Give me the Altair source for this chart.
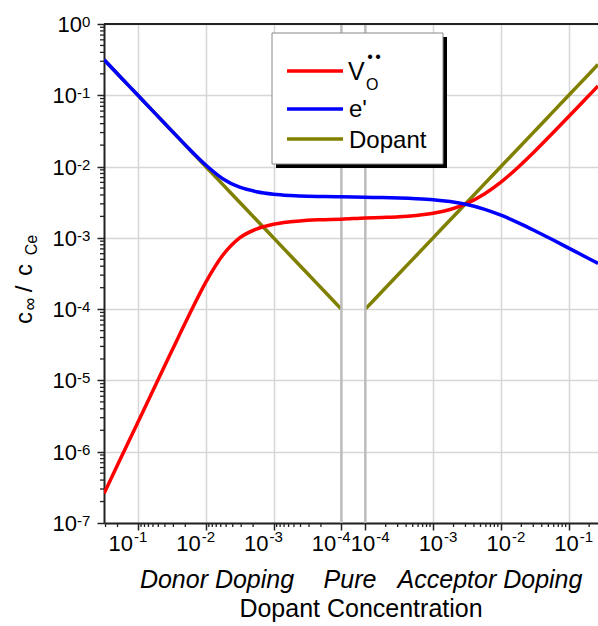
import math

import altair as alt
import pandas as pd

FONT = "Liberation Sans"
GAP = 0.353  # width of the break between the donor and acceptor halves, in decades

# Dopant concentration on each half of the axis
donor_conc = [0.316, 0.178, 0.1, 0.0562, 0.0316, 0.0178, 0.01, 5.62e-3, 3.16e-3,
              1.78e-3, 1e-3, 5.62e-4, 3.16e-4, 1.78e-4, 1e-4]
acceptor_conc = [1e-4, 1.78e-4, 3.16e-4, 5.62e-4, 1e-3, 1.78e-3, 3.16e-3, 5.62e-3,
                 1e-2, 1.78e-2, 3.16e-2, 5.62e-2, 0.1, 0.178, 0.27]

# Oxygen vacancy concentration
donor_vo = [2.60e-7, 8.20e-7, 2.60e-6, 8.22e-6, 2.60e-5, 8.08e-5, 2.37e-4, 5.69e-4,
            1.00e-3, 1.33e-3, 1.55e-3, 1.68e-3, 1.77e-3, 1.80e-3, 1.83e-3]
acceptor_vo = [1.90e-3, 1.93e-3, 1.97e-3, 2.06e-3, 2.21e-3, 2.50e-3, 3.04e-3, 4.08e-3,
               6.04e-3, 9.72e-3, 1.64e-2, 2.86e-2, 5.04e-2, 8.93e-2, 0.135]

# Electron concentration
donor_e = [0.316, 0.178, 0.100, 0.0562, 0.0317, 0.0179, 0.0105, 6.76e-3, 5.13e-3,
           4.44e-3, 4.10e-3, 3.93e-3, 3.83e-3, 3.80e-3, 3.76e-3]
acceptor_e = [3.70e-3, 3.68e-3, 3.63e-3, 3.55e-3, 3.43e-3, 3.23e-3, 2.93e-3, 2.53e-3,
              2.08e-3, 1.64e-3, 1.26e-3, 9.54e-4, 7.18e-4, 5.40e-4, 4.39e-4]

# Axis decades
x_donor_decades = [1e-1, 1e-2, 1e-3, 1e-4]
x_acceptor_decades = [1e-4, 1e-3, 1e-2, 1e-1]
y_decades = [1, 1e-1, 1e-2, 1e-3, 1e-4, 1e-5, 1e-6, 1e-7]


def donor_pos(c):
    return -math.log10(c)


def acceptor_pos(c):
    return math.log10(c) + 8 + GAP


X_MIN = 0.5
X_MAX = acceptor_pos(acceptor_conc[-1])

xscale = alt.Scale(domain=[X_MIN, X_MAX], zero=False, nice=False)
yscale = alt.Scale(type="log", domain=[1e-7, 1], nice=False)

# ---- curve table ----
rows = []
order = 0
for c, v, e in zip(donor_conc, donor_vo, donor_e):
    u = donor_pos(c)
    rows += [dict(u=u, value=v, series="V", seg="V", order=order),
             dict(u=u, value=e, series="e", seg="e", order=order),
             dict(u=u, value=c, series="Dopant", seg="donor", order=order)]
    order += 1
for c, v, e in zip(acceptor_conc, acceptor_vo, acceptor_e):
    u = acceptor_pos(c)
    rows += [dict(u=u, value=v, series="V", seg="V", order=order),
             dict(u=u, value=e, series="e", seg="e", order=order),
             dict(u=u, value=c, series="Dopant", seg="acceptor", order=order)]
    order += 1
curves = pd.DataFrame(rows)

major_u = [donor_pos(c) for c in x_donor_decades] + [acceptor_pos(c) for c in x_acceptor_decades]

# The same axis objects are given to every layer so the shared axes merge cleanly
xaxis = alt.Axis(values=major_u, labels=False, title=None, grid=True,
                 gridColor="#d6d6d6", gridWidth=1.5, tickSize=7, tickWidth=1.5,
                 tickColor="#222222", domainColor="#222222", domainWidth=2)
yaxis = alt.Axis(values=y_decades, labels=False, title=None, grid=True,
                 gridColor="#d6d6d6", gridWidth=1.5, tickSize=7, tickWidth=1.5,
                 tickColor="#222222", domainColor="#222222", domainWidth=2)


def X(field="u"):
    return alt.X(f"{field}:Q", scale=xscale, axis=xaxis)


def Y(field="value"):
    return alt.Y(f"{field}:Q", scale=yscale, axis=yaxis)


def curve(name, color):
    data = curves[curves.series == name]
    return alt.Chart(data).mark_line(
        color=color, strokeWidth=3.5, interpolate="monotone", clip=True
    ).encode(x=X(), y=Y(), detail="seg:N", order="order:Q")


# ---- minor ticks ----
minor_x = []
for d in range(0, 4):
    for k in range(2, 10):
        u = donor_pos(k * 10 ** (-(d + 1)))
        if X_MIN <= u <= 4:
            minor_x.append(u)
        u = acceptor_pos(k * 10 ** (-4 + d))
        if u <= X_MAX:
            minor_x.append(u)
minor_y = [k * 10 ** (-e) for e in range(1, 8) for k in range(2, 10)]

minor_x_ticks = alt.Chart(pd.DataFrame({"u": minor_x})).mark_rule(
    color="#222222", strokeWidth=1.3
).encode(x=X(), y=alt.value(499), y2=alt.value(503))

minor_y_ticks = alt.Chart(pd.DataFrame({"value": minor_y})).mark_rule(
    color="#222222", strokeWidth=1.3
).encode(y=Y(), x=alt.value(-4), x2=alt.value(0))

# Darker lines marking the pure (undoped) state on both halves
pure_lines = alt.Chart(pd.DataFrame({"u": [donor_pos(1e-4), acceptor_pos(1e-4)]})).mark_rule(
    color="#bdbdbd", strokeWidth=2.5
).encode(x=X())

one = pd.DataFrame({"k": [0]})
top_border = alt.Chart(one).mark_rule(color="#222222", strokeWidth=2).encode(
    x=alt.value(0), x2=alt.value(494), y=alt.value(0))

# ---- tick labels ----
xl_left = pd.DataFrame({"u": [donor_pos(c) for c in x_donor_decades],
                        "sup": ["-%d" % round(-math.log10(c)) for c in x_donor_decades]})
xl_right = pd.DataFrame({"u": [acceptor_pos(c) for c in x_acceptor_decades],
                         "sup": ["-%d" % round(-math.log10(c)) for c in x_acceptor_decades]})


def x_labels(df, dx_base, dx_sup):
    base = alt.Chart(df).mark_text(text="10", align="right", baseline="alphabetic",
                                   fontSize=22, font=FONT, dx=dx_base, color="black").encode(
        x=X(), y=alt.value(527))
    sup = alt.Chart(df).mark_text(align="left", baseline="alphabetic", fontSize=15,
                                  font=FONT, dx=dx_sup, color="black").encode(
        x=X(), y=alt.value(518), text="sup:N")
    return [base, sup]


yl_neg = pd.DataFrame({"value": y_decades[1:],
                       "sup": ["-%d" % round(-math.log10(v)) for v in y_decades[1:]]})
yl_zero = pd.DataFrame({"value": [1.0], "sup": ["0"]})


def y_labels(df, xpos):
    base = alt.Chart(df).mark_text(text="10", align="right", baseline="alphabetic",
                                   fontSize=22, font=FONT, dy=8, color="black").encode(
        y=Y(), x=alt.value(xpos))
    sup = alt.Chart(df).mark_text(align="left", baseline="alphabetic", fontSize=15,
                                  font=FONT, dy=3, color="black").encode(
        y=Y(), x=alt.value(xpos), text="sup:N")
    return [base, sup]


def label(text, x, y, size=25, align="center", angle=0, style="normal", color="black"):
    props = dict(text=text, align=align, baseline="alphabetic", fontSize=size,
                 font=FONT, fontStyle=style, color=color)
    if angle:
        props["angle"] = angle
    return alt.Chart(one).mark_text(**props).encode(x=alt.value(x), y=alt.value(y))


# ---- axis titles ----
titles = [
    label("Donor Doping", 113, 564, style="italic"),
    label("Pure", 246, 564, style="italic"),
    label("Acceptor Doping", 386, 564, style="italic"),
    label("Dopant Concentration", 257, 593),
    label("c", -72, 294, size=24, angle=270),
    label("\u221e", -68, 280, size=18, angle=270),
    label("/", -72, 265, size=24, angle=270),
    label("c", -72, 246, size=24, angle=270),
    label("Ce", -67, 221, size=16, angle=270),
]

# ---- legend ----
legend_shadow = alt.Chart(one).mark_rect(color="black").encode(
    x=alt.value(172), x2=alt.value(343), y=alt.value(13), y2=alt.value(144))
legend_box = alt.Chart(one).mark_rect(fill="white", stroke="#888888", strokeWidth=1).encode(
    x=alt.value(168), x2=alt.value(339), y=alt.value(9), y2=alt.value(140))


def legend_line(color, y):
    return alt.Chart(one).mark_rule(color=color, strokeWidth=3.5).encode(
        x=alt.value(183), x2=alt.value(239), y=alt.value(y))


legend = [
    legend_shadow, legend_box,
    legend_line("#ff0000", 47), legend_line("#0000ff", 85), legend_line("#808000", 115),
    label("V", 244, 56, size=25, align="left"),
    label("O", 262, 66, size=16, align="left"),
    label("\u2022", 266, 38, size=16),
    label("\u2022", 274, 38, size=16),
    label("e'", 245, 93, size=24, align="left"),
    label("Dopant", 245, 124, size=24, align="left"),
]

layers = (
    [curve("Dopant", "#808000"), pure_lines,
     curve("V", "#ff0000"), curve("e", "#0000ff"),
     minor_x_ticks, minor_y_ticks, top_border]
    + x_labels(xl_left, -5, -4)
    + x_labels(xl_right, 10, 11)
    + y_labels(yl_neg, -27)
    + y_labels(yl_zero, -22)
    + titles
    + legend
)

chart = alt.layer(*layers).properties(
    width=494,
    height=499,
    padding={"left": 104, "top": 24, "right": 0, "bottom": 103},
    autosize=alt.AutoSizeParams(type="none"),
    background="white",
).configure_view(stroke=None)

chart.save("out.html", embed_options={"renderer": "svg", "actions": False})
